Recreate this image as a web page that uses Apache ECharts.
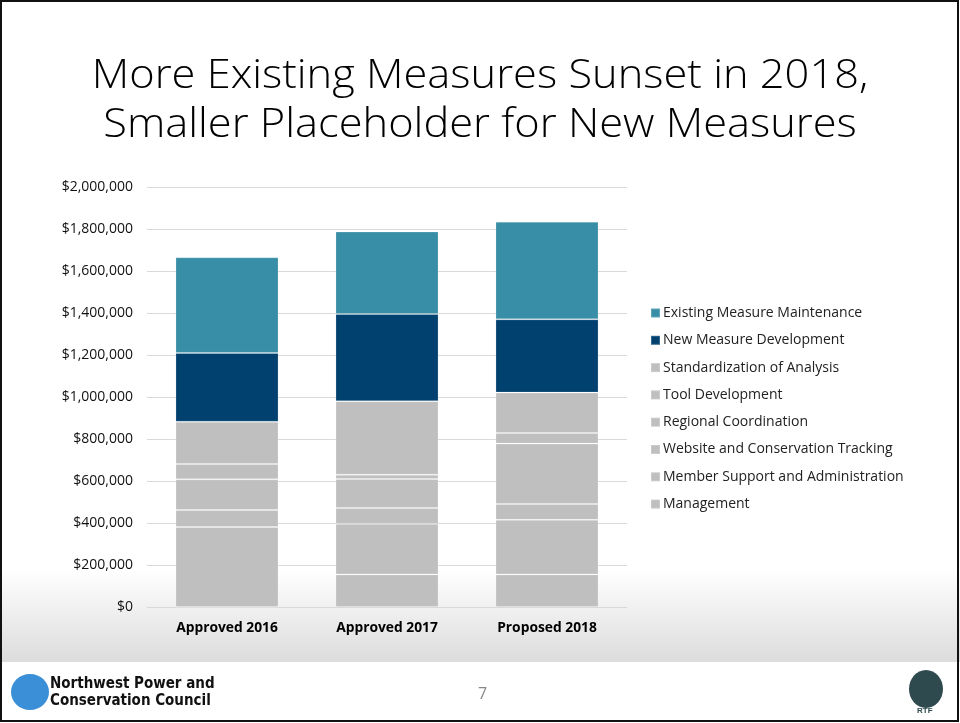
<!DOCTYPE html>
<html><head><meta charset="utf-8">
<script src="https://cdn.jsdelivr.net/npm/echarts@6/dist/echarts.min.js"></script>
<style>html,body{margin:0;padding:0;background:#fff}#c{width:960px;height:723px}</style>
</head><body><div id="c"></div>
<script>
const categories = ['Approved 2016', 'Approved 2017', 'Proposed 2018'];
const management = [0, 155000, 155000];
const memberSupport = [381000, 241000, 260000];
const website = [81000, 76000, 76000];
const regional = [146000, 138000, 287000];
const toolDev = [73000, 20000, 51000];
const standardization = [201000, 350000, 192000];
const newMeasure = [328000, 415000, 349000];
const existingMeasure = [455000, 393000, 465000];
const yTicks = [0, 200000, 400000, 600000, 800000, 1000000, 1200000, 1400000, 1600000, 1800000, 2000000];
const legendOrder = ['Existing Measure Maintenance', 'New Measure Development', 'Standardization of Analysis', 'Tool Development', 'Regional Coordination', 'Website and Conservation Tracking', 'Member Support and Administration', 'Management'];

const GRAY = '#BFBFBF', NAVY = '#00416F', TEAL = '#378EA6';
const seriesDefs = [
  ['Management', management, GRAY],
  ['Member Support and Administration', memberSupport, GRAY],
  ['Website and Conservation Tracking', website, GRAY],
  ['Regional Coordination', regional, GRAY],
  ['Tool Development', toolDev, GRAY],
  ['Standardization of Analysis', standardization, GRAY],
  ['New Measure Development', newMeasure, NAVY],
  ['Existing Measure Maintenance', existingMeasure, TEAL]
];
function money(v){ return '$' + String(v).replace(/\B(?=(\d{3})+(?!\d))/g, ','); }

const chart = echarts.init(document.getElementById('c'), null, {renderer:'canvas'});
chart.setOption({
  animation:false,
  backgroundColor:'#fff',
  graphic:[
    {type:'rect', z:-10, shape:{x:0,y:570,width:960,height:92}, style:{fill:new echarts.graphic.LinearGradient(0,0,0,1,[{offset:0,color:'#ffffff'},{offset:1,color:'#dcdcdc'}])}},
    {type:'rect', z:50, shape:{x:1,y:1,width:957,height:720}, style:{fill:'none', stroke:'#111', lineWidth:2}},
    {type:'text', x:480, y:52, scaleX:1.085, originX:0, originY:0, style:{text:'More Existing Measures Sunset in 2018,\nSmaller Placeholder for New Measures', font:'300 40px "Open Sans", sans-serif', fill:'#000', align:'center', verticalAlign:'top', lineHeight:49}},
    {type:'ellipse', shape:{cx:30,cy:692,rx:19,ry:18}, style:{fill:'#3a8fd6'}},
    {type:'text', left:50, top:676, style:{text:'Northwest Power and\nConservation Council', font:'bold 15px "Liberation Sans Narrow", "DejaVu Sans Condensed", sans-serif', fill:'#111', lineHeight:17}},
    {type:'text', left:478, top:686, style:{text:'7', font:'16px "Open Sans", sans-serif', fill:'#888'}},
    {type:'ellipse', shape:{cx:926,cy:689,rx:17,ry:19}, style:{fill:'#2e4a4f'}},
    {type:'text', left:917, top:707, style:{text:'RTF', font:'bold 8px sans-serif', fill:'#2e4a4f'}}
  ],
  grid:{left:147, right:333, top:187, bottom:116, containLabel:false},
  legend:{
    data:legendOrder, orient:'vertical', left:650, top:306, padding:0, itemWidth:9, itemHeight:9, itemGap:13.3,
    icon:'rect', selectedMode:false,
    textStyle:{fontFamily:'"Open Sans", sans-serif', fontSize:14, color:'#222', padding:[0,0,0,-2]}
  },
  xAxis:{
    type:'category', data:categories,
    axisLine:{show:true, lineStyle:{color:'#d9d9d9'}}, axisTick:{show:false},
    axisLabel:{fontFamily:'"Open Sans", sans-serif', fontWeight:'bold', fontSize:13.8, color:'#000', margin:14}
  },
  yAxis:{
    type:'value', min:yTicks[0], max:yTicks[yTicks.length-1], interval:yTicks[1]-yTicks[0],
    axisLine:{show:false}, axisTick:{show:false},
    splitLine:{lineStyle:{color:'#d9d9d9'}},
    axisLabel:{formatter:money, fontFamily:'"Open Sans", sans-serif', fontSize:14, color:'#111', margin:14}
  },
  series: seriesDefs.map(([name, data, color]) => ({
    name, type:'bar', stack:'total', data, barCategoryGap:'35.6%',
    itemStyle:{color, borderColor:'rgba(255,255,255,0.2)', borderWidth:1}
  }))
});
</script></body></html>
